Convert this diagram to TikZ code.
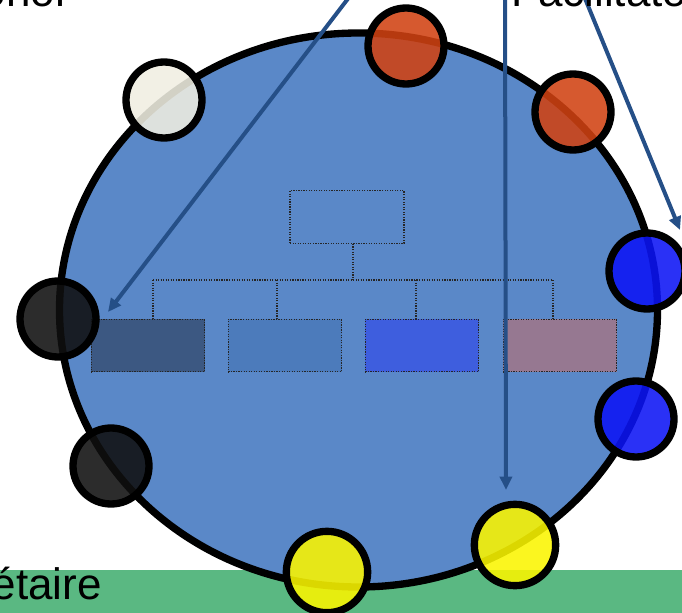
\documentclass[tikz,border=0pt]{standalone}
\usepackage{fontspec}
\setmainfont{Liberation Sans}
\usetikzlibrary{arrows.meta}
\definecolor{bandgreen}{RGB}{90,184,130}
\definecolor{ellblue}{RGB}{90,136,200}
\definecolor{arrblue}{RGB}{37,79,135}
\definecolor{cwhite}{RGB}{240,238,225}
\definecolor{cred}{RGB}{208,66,18}
\definecolor{cblue}{RGB}{12,20,245}
\definecolor{cyellow}{RGB}{250,245,0}
\definecolor{cblack}{RGB}{15,15,15}
\definecolor{boxA}{RGB}{60,88,130}
\definecolor{boxB}{RGB}{76,123,187}
\definecolor{boxC}{RGB}{62,94,222}
\definecolor{boxD}{RGB}{150,120,145}
\begin{document}
\begin{tikzpicture}[x=0.75pt,y=-0.75pt,
  lbl/.style={font=\fontsize{33}{40}\selectfont, inner sep=0pt, text=black},
  circ/.style={circle, draw=black, line width=5.5pt, minimum size=57pt, inner sep=0pt, fill opacity=0.88, draw opacity=1},
  bigcirc/.style={circ, minimum size=61pt},
  orgbox/.style={rectangle, draw=black!85, densely dotted, line width=0.9pt, minimum width=85pt, minimum height=39.5pt, inner sep=0pt},
  orgline/.style={draw=black!85, densely dotted, line width=0.9pt},
  arr/.style={draw=arrblue, line width=3pt, -{Triangle[length=10pt,width=9pt]}}
]
\useasboundingbox (0,0) rectangle (682,613);
\clip (0,0) rectangle (682,613);
% green band
\fill[bandgreen] (0,570) rectangle (682,613);
% big ellipse
\draw[line width=5.5pt, fill=ellblue] (358.5,310) ellipse [x radius=299, y radius=277];
% org chart
\node[orgbox, minimum width=85.5pt] (top) at (347,217) {};
\node[orgbox, fill=boxA] (b1) at (148,345.5) {};
\node[orgbox, fill=boxB] (b2) at (285,345.5) {};
\node[orgbox, fill=boxC] (b3) at (422,345.5) {};
\node[orgbox, fill=boxD] (b4) at (560,345.5) {};
\coordinate (j0) at (353,280);
\coordinate (j1) at (153,280);
\coordinate (j2) at (277,280);
\coordinate (j3) at (416,280);
\coordinate (j4) at (553,280);
\draw[orgline] (j0 |- top.south) -- (j0);
\draw[orgline] (j1) -- (j4);
\draw[orgline] (j1) -- (j1 |- b1.north);
\draw[orgline] (j2) -- (j2 |- b2.north);
\draw[orgline] (j3) -- (j3 |- b3.north);
\draw[orgline] (j4) -- (j4 |- b4.north);
% circles
\node[circ, fill=cwhite] (cw) at (164,100) {};
\node[circ, fill=cred] (cr1) at (406,46) {};
\node[circ, fill=cred] (cr2) at (573,112) {};
\node[circ, fill=cblue] (cb1) at (647,271) {};
\node[circ, fill=cblue] (cb2) at (636,419) {};
\node[bigcirc, fill=cyellow] (cy1) at (515,545) {};
\node[bigcirc, fill=cyellow] (cy2) at (327,572) {};
\node[circ, fill=cblack] (ck1) at (111,466) {};
\node[circ, fill=cblack] (ck2) at (58,319) {};
% arrows
\coordinate (a1s) at (350,-4);
\coordinate (a1e) at (108,312);
\coordinate (a2s) at (505,-4);
\coordinate (a2e) at (506,490);
\coordinate (a3s) at (584,-4);
\coordinate (a3e) at (680,230);
\draw[arr] (a1s) -- (a1e);
\draw[arr] (a2s) -- (a2e);
\draw[arr] (a3s) -- (a3e);
% texts
\node[lbl, anchor=base east] (donor) at (70,7) {Donor};
\node[lbl, anchor=base west] (facil) at (511,7) {Facilitator};
\node[lbl, anchor=base east] (prop) at (102,599) {étaire};
\end{tikzpicture}
\end{document}
